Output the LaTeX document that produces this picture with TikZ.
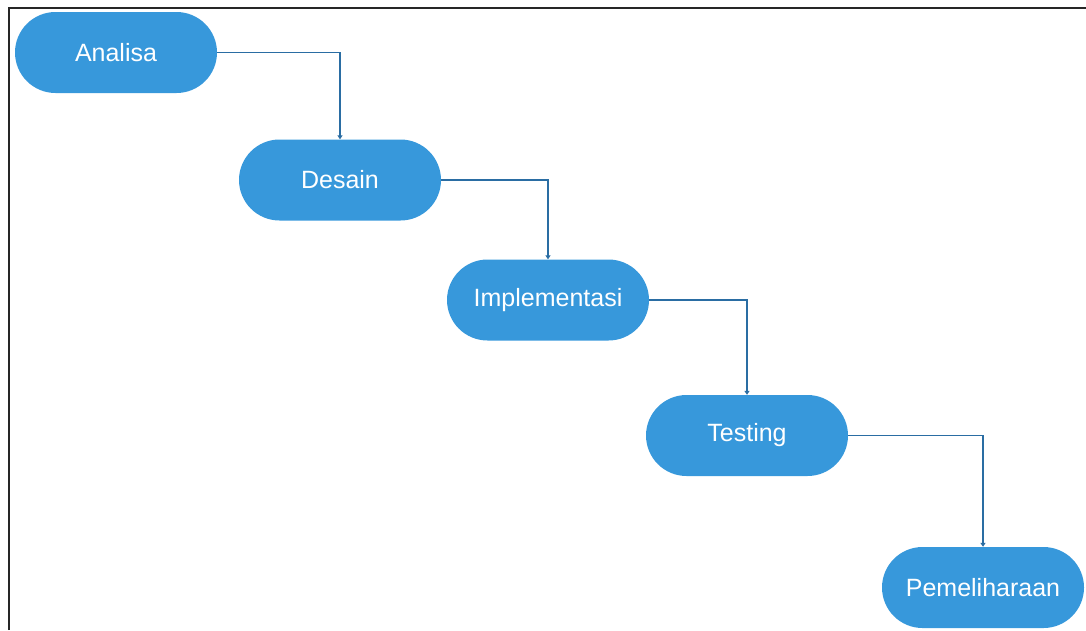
\documentclass[tikz,border=0pt]{standalone}
\usepackage{fontspec}
\setmainfont{Liberation Sans}
\usetikzlibrary{arrows.meta,shapes.misc}
\definecolor{stagefill}{HTML}{3798DB}
\definecolor{flowline}{HTML}{2A6DA3}
\tikzset{
  stage/.style={rounded rectangle, fill=stagefill, text=white,
    minimum width=202pt, minimum height=81pt, inner sep=0pt,
    font=\fontsize{25}{29}\selectfont},
  flow/.style={draw=flowline, line width=1.6pt,
    -{Triangle[width=5pt,length=4pt]}},
}
\begin{document}
\begin{tikzpicture}[x=1pt,y=-1pt]
  \useasboundingbox (0,0) rectangle (1086,630);
  % frame: top and left edges
  \draw[line width=2pt, black!85] (9,630) -- (9,8) -- (1086,8);

  \node[stage] (analisa) at (116,52.5) {Analisa};
  \node[stage] (desain)  at (340,180)  {Desain};
  \node[stage] (impl)    at (548,300)  {Implementasi};
  \node[stage] (testing) at (747,435.5) {Testing};
  \node[stage] (pemel)   at (983,587.5) {Pemeliharaan};

  \draw[flow] (analisa.east) -| (desain.north);
  \draw[flow] (desain.east)  -| (impl.north);
  \draw[flow] (impl.east)    -| (testing.north);
  \draw[flow] (testing.east) -| (pemel.north);
\end{tikzpicture}
\end{document}
